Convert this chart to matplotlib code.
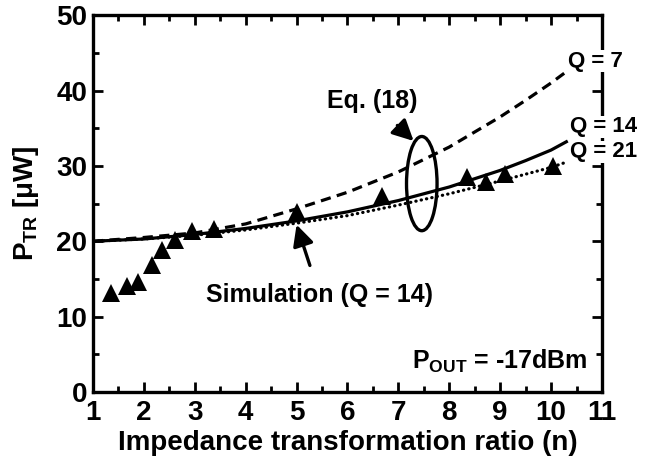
import matplotlib
matplotlib.use("Agg")
import matplotlib.pyplot as plt
from matplotlib.patches import Ellipse
from matplotlib.ticker import MultipleLocator

plt.rcParams['font.family'] = ['Liberation Sans', 'DejaVu Sans']
plt.rcParams['font.weight'] = 'bold'
plt.rcParams['mathtext.fontset'] = 'custom'
plt.rcParams['mathtext.rm'] = 'Liberation Sans:bold'
plt.rcParams['mathtext.it'] = 'Liberation Sans:bold'
plt.rcParams['mathtext.bf'] = 'Liberation Sans:bold'

# Eq. (18) curves for three Q values
n_curve = [1, 2, 3, 4, 5, 6, 7, 8, 9, 9.5, 10, 10.3]
p_q7 = [20.0, 20.5, 21.1, 22.3, 24.3, 26.5, 29.2, 32.5, 36.5, 38.7, 41.0, 42.5]
p_q14 = [20.0, 20.3, 20.9, 21.7, 22.7, 23.9, 25.4, 27.2, 29.4, 30.7, 32.1, 33.2]
p_q21 = [20.0, 20.3, 20.8, 21.5, 22.4, 23.4, 24.8, 26.3, 28.0, 28.9, 29.8, 30.5]

# Circuit simulation (Q = 14)
n_sim = [1.35, 1.66, 1.88, 2.15, 2.36, 2.62, 2.95, 3.38, 5.0, 6.67, 8.35, 8.72, 9.09, 10.03]
p_sim = [13.2, 14.1, 14.6, 16.8, 18.9, 20.1, 21.4, 21.6, 23.9, 26.0, 28.5, 27.8, 28.9, 30.0]

x_ticks = list(range(1, 12))
y_ticks = [0, 10, 20, 30, 40, 50]

fig = plt.figure(figsize=(6.47, 4.59), dpi=100)
ax = fig.add_axes([0.1437, 0.146, 0.7867, 0.821])

lw = 2.3
ax.plot(n_curve, p_q7, color='black', lw=lw, linestyle=(0, (3.2, 2.0)))
ax.plot(n_curve, p_q14, color='black', lw=lw, linestyle='-')
ax.plot(n_curve, p_q21, color='black', lw=lw, linestyle=(0, (0.1, 1.6)),
        dash_capstyle='round')
ax.plot(n_sim, p_sim, linestyle='none', marker='^', color='black', ms=13.5,
        markeredgewidth=0)

ax.set_xlim(1, 11)
ax.set_ylim(0, 50)
ax.set_xticks(x_ticks)
ax.set_yticks(y_ticks)
ax.xaxis.set_minor_locator(MultipleLocator(0.5))
ax.yaxis.set_minor_locator(MultipleLocator(5))
ax.tick_params(which='both', direction='in', top=True, right=True,
               labelsize=20, width=2)
ax.tick_params(which='major', length=7)
ax.tick_params(axis='x', which='major', pad=6)
ax.tick_params(axis='y', which='major', pad=4)
ax.tick_params(which='minor', length=4)
for lab in ax.get_xticklabels() + ax.get_yticklabels():
    lab.set_fontweight('bold')
for sp in ax.spines.values():
    sp.set_linewidth(2.4)

ax.set_xlabel('Impedance transformation ratio (n)', fontsize=20,
              fontweight='bold', labelpad=3)
ax.set_ylabel(r'P$_{\mathregular{TR}}$ [μW]', fontsize=20, fontweight='bold',
              labelpad=11)

# Q labels at the curve ends, drawn over the right spine
q_box = dict(facecolor='white', edgecolor='none', pad=0.3)
ax.text(10.33, 43.9, 'Q = 7', fontsize=16, fontweight='bold', va='center',
        ha='left', clip_on=False, bbox=q_box, zorder=5)
ax.text(10.37, 35.2, 'Q = 14', fontsize=16, fontweight='bold', va='center',
        ha='left', clip_on=False, bbox=q_box, zorder=5)
ax.text(10.37, 31.9, 'Q = 21', fontsize=16, fontweight='bold', va='center',
        ha='left', clip_on=False, bbox=q_box, zorder=5)

# Ellipse around the analytical curves
ax.add_patch(Ellipse((7.46, 27.65), 0.6, 12.5, fill=False, lw=2.4,
                     edgecolor='black'))

ax.annotate('Eq. (18)', xy=(7.3, 33.3), xytext=(6.48, 38.6),
            fontsize=18, fontweight='bold', ha='center', va='center',
            arrowprops=dict(arrowstyle='-|>,head_length=0.7,head_width=0.35',
                            color='black', lw=2.4, shrinkA=10, shrinkB=0))

ax.annotate('Simulation (Q = 14)', xy=(5.0, 22.2), xytext=(5.45, 12.9),
            fontsize=18, fontweight='bold', ha='center', va='center',
            arrowprops=dict(arrowstyle='-|>,head_length=0.7,head_width=0.35',
                            color='black', lw=2.4, shrinkA=11, shrinkB=0))

ax.text(10.71, 4.0, r'P$_{\mathregular{OUT}}$ = -17dBm', fontsize=18,
        fontweight='bold', ha='right', va='center')

fig.savefig('out.png', dpi=100)
